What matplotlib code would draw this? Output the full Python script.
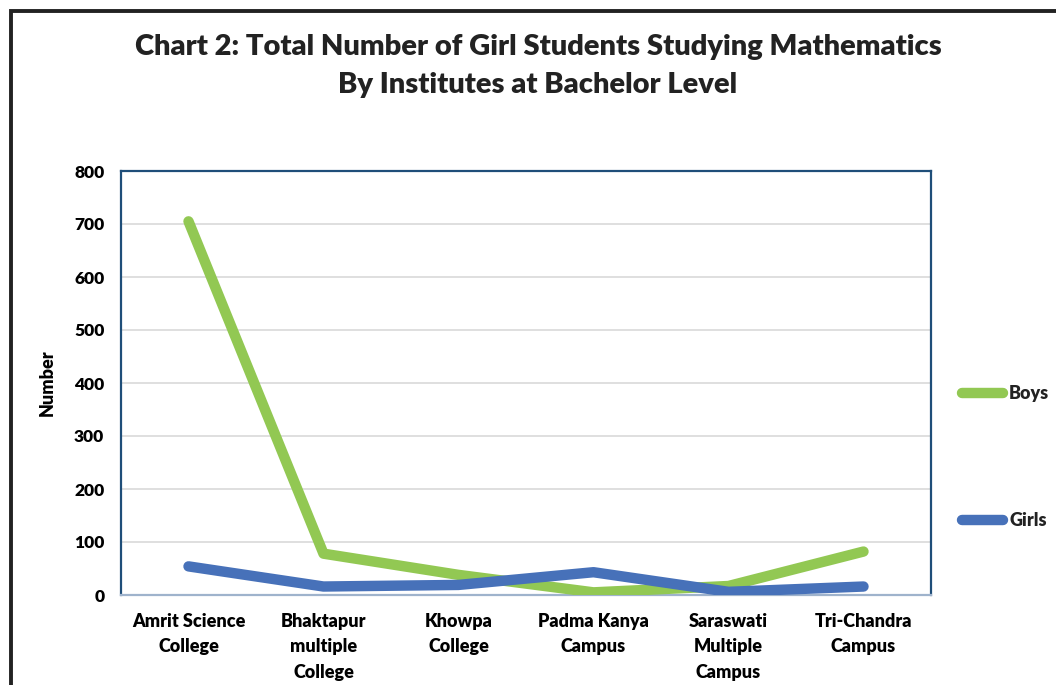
import numpy as np
import matplotlib.pyplot as plt
from matplotlib.patches import Rectangle
from matplotlib.lines import Line2D

plt.rcParams['font.family'] = ['Lato', 'DejaVu Sans']

institutes = ["Amrit Science\nCollege", "Bhaktapur\nmultiple\nCollege", "Khowpa\nCollege",
              "Padma Kanya\nCampus", "Saraswati\nMultiple\nCampus", "Tri-Chandra\nCampus"]
boys = [705, 78, 38, 5, 17, 82]
girls = [54, 16, 19, 43, 6, 16]
yticks = [0, 100, 200, 300, 400, 500, 600, 700, 800]

green = '#92C853'
blue = '#4771B9'

fig = plt.figure(figsize=(10.56, 6.85), dpi=100)
ax = fig.add_axes([121/1056, 1-595/685, 810/1056, 424/685])

x = np.arange(len(institutes))
ax.plot(x, boys, color=green, lw=7.5, solid_capstyle='round', solid_joinstyle='round', zorder=3)
ax.plot(x, girls, color=blue, lw=7.5, solid_capstyle='round', solid_joinstyle='round', zorder=4)

ax.set_xlim(-0.5, 5.5)
ax.set_ylim(0, 800)
ax.set_yticks(yticks)
ax.set_yticklabels([str(v) for v in yticks], fontweight='heavy', fontsize=12.5)
ax.set_xticks(x)
ax.set_xticklabels(institutes, fontweight='heavy', fontsize=13, linespacing=1.6, va='top')
ax.tick_params(length=0, pad=12)
ax.tick_params(axis='x', pad=13)
ax.grid(axis='y', color='#D9D9D9', lw=1.2)
ax.set_axisbelow(True)
for s in ['left', 'top', 'right']:
    ax.spines[s].set_color('#1F4E79')
    ax.spines[s].set_linewidth(1.6)
ax.spines['bottom'].set_color('#9FB3CC')
ax.spines['bottom'].set_linewidth(1.6)
ax.set_ylabel("Number", fontweight='heavy', fontsize=13, labelpad=13)

fig.text(538/1056, 1-66/685, "Chart 2: Total Number of Girl Students Studying Mathematics\nBy Institutes at Bachelor Level",
         ha='center', va='center', fontsize=21, fontweight='heavy', color='#222222', linespacing=1.58)

# legend entries
for label, col, ypix in [("Boys", green, 393), ("Girls", blue, 520)]:
    yf = 1 - ypix/685
    fig.add_artist(Line2D([962/1056, 1003/1056], [yf, yf], color=col, lw=7.5, solid_capstyle='round'))
    fig.text(1009/1056, yf, label, ha='left', va='center', fontsize=13, fontweight='heavy', color='#222222')

# outer chart border
fig.add_artist(Rectangle((11/1056, -0.1), 1.2, 1 - 11/685 + 0.1, transform=fig.transFigure,
                         fill=False, edgecolor='#222222', lw=2.8))

fig.savefig('out.png', dpi=100)
